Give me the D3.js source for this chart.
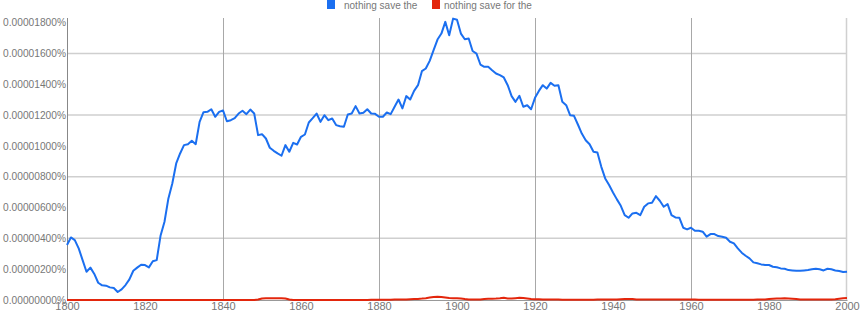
<!DOCTYPE html>
<html>
<head>
<meta charset="utf-8">
<script src="https://cdn.jsdelivr.net/npm/d3@7"></script>
<style>
  body { margin: 0; background: #fff; }
  svg text { font-family: "Liberation Sans", Arial, sans-serif; }
</style>
</head>
<body>
<div id="chart"></div>
<script>
// values in units of 0.00000001%
const years = d3.range(1800, 2001);
const seriesNames = ["nothing save the", "nothing save for the"];
const seriesColors = ["#1b6ff0", "#e3260c"];

const saveThe = [
  357, 406, 389, 335, 259, 183, 210, 169, 112, 95,
  93, 82, 78, 52, 69, 97, 134, 190, 210, 229,
  227, 212, 251, 259, 419, 508, 659, 756, 886, 951,
  1005, 1011, 1033, 1011, 1156, 1219, 1221, 1238, 1189, 1221,
  1230, 1160, 1167, 1180, 1210, 1228, 1206, 1236, 1210, 1070,
  1076, 1048, 988, 968, 951, 936, 1005, 962, 1020, 1009,
  1059, 1074, 1152, 1180, 1210, 1156, 1199, 1167, 1178, 1135,
  1128, 1124, 1204, 1210, 1258, 1210, 1215, 1238, 1210, 1208,
  1189, 1189, 1217, 1206, 1254, 1301, 1243, 1323, 1301, 1357,
  1394, 1485, 1502, 1552, 1621, 1690, 1729, 1805, 1718, 1826,
  1819, 1729, 1692, 1697, 1616, 1599, 1528, 1513, 1513, 1491,
  1470, 1459, 1444, 1394, 1323, 1286, 1325, 1254, 1264, 1238,
  1312, 1357, 1394, 1372, 1409, 1390, 1394, 1286, 1264, 1199,
  1195, 1139, 1080, 1037, 1011, 962, 957, 864, 789, 746,
  698, 653, 611, 551, 534, 562, 566, 551, 605, 627,
  631, 674, 644, 605, 622, 551, 536, 534, 469, 458,
  469, 449, 449, 443, 411, 428, 428, 415, 411, 404,
  378, 367, 335, 307, 287, 270, 244, 238, 231, 227,
  227, 216, 212, 205, 203, 194, 192, 190, 190, 192,
  194, 199, 203, 199, 192, 203, 199, 192, 188, 182,
  184
];

const saveForThe = [
  0, 0, 0, 0, 0, 0, 0, 0, 0, 0,
  0, 0, 0, 0, 0, 0, 0, 0, 0, 0,
  0, 0, 0, 0, 0, 0, 0, 0, 0, 0,
  0, 0, 0, 0, 0, 0, 0, 0, 0, 0,
  0, 0, 0, 0, 0, 0, 0, 0, 0, 3,
  10, 11, 11, 11, 11, 11, 10, 3, 0, 0,
  0, 0, 0, 0, 0, 0, 0, 0, 0, 0,
  0, 0, 0, 0, 0, 0, 0, 0, 1, 1,
  1, 1, 2, 2, 3, 3, 4, 4, 5, 6,
  7, 9, 12, 16, 20, 21, 19, 16, 13, 12,
  11, 9, 6, 4, 3, 3, 4, 6, 8, 8,
  9, 11, 14, 10, 9, 12, 14, 13, 10, 7,
  5, 5, 4, 3, 3, 3, 3, 2, 2, 2,
  2, 2, 2, 2, 2, 2, 3, 3, 3, 3,
  3, 4, 5, 6, 7, 6, 4, 3, 3, 3,
  3, 3, 3, 3, 3, 3, 3, 3, 3, 3,
  3, 3, 2, 2, 2, 2, 2, 2, 2, 2,
  2, 2, 2, 2, 2, 2, 2, 3, 3, 4,
  6, 8, 9, 10, 11, 10, 8, 6, 4, 3,
  3, 3, 3, 3, 3, 3, 3, 5, 8, 11,
  13
];

const yTicks = [0, 200, 400, 600, 800, 1000, 1200, 1400, 1600, 1800];
const yGrid = [400, 800, 1200, 1600];
const xTicks = [1800, 1820, 1840, 1860, 1880, 1900, 1920, 1940, 1960, 1980, 2000];
const xGrid = [1840, 1880, 1920, 1960];

const W = 860, H = 315;
const margin = { top: 18, right: 13, bottom: 15, left: 67 };
const yMax = 1830;

const svg = d3.select("#chart").append("svg")
    .attr("width", W)
    .attr("height", H);

const x = d3.scaleLinear()
    .domain([1800, 2000])
    .range([margin.left, W - margin.right]);

const y = d3.scaleLinear()
    .domain([0, yMax])
    .range([H - margin.bottom, margin.top]);

// horizontal grid
svg.append("g")
    .selectAll("line")
    .data(yGrid)
    .enter().append("line")
    .attr("x1", x(1800))
    .attr("x2", x(2000))
    .attr("y1", d => y(d))
    .attr("y2", d => y(d))
    .style("stroke", "#cfcfcf")
    .style("stroke-width", "1.5px");

// vertical grid
svg.append("g")
    .selectAll("line")
    .data(xGrid)
    .enter().append("line")
    .attr("x1", d => Math.round(x(d)) + 0.5)
    .attr("x2", d => Math.round(x(d)) + 0.5)
    .attr("y1", y(yMax))
    .attr("y2", y(0))
    .style("stroke", "#a8a8a8")
    .style("stroke-width", "1px");

// right border
svg.append("line")
    .attr("x1", x(2000) - 0.5).attr("x2", x(2000) - 0.5)
    .attr("y1", y(yMax)).attr("y2", y(0))
    .style("stroke", "#d0d0d0")
    .style("stroke-width", "1.5px");

// y axis
const yAxis = d3.axisLeft(y)
    .tickValues(yTicks)
    .tickSize(0)
    .tickPadding(1)
    .tickFormat(d => (d * 1e-8).toFixed(8) + "%");

const gy = svg.append("g")
    .attr("transform", `translate(${x(1800)},0)`)
    .call(yAxis);
gy.select(".domain").remove();
gy.selectAll("text")
    .style("font-size", "10.2px")
    .style("fill", "#777");

svg.append("line")
    .attr("x1", x(1800) + 0.5).attr("x2", x(1800) + 0.5)
    .attr("y1", y(yMax)).attr("y2", y(0))
    .style("stroke", "#888")
    .style("stroke-width", "1px");

// x axis
const xAxis = d3.axisBottom(x)
    .tickValues(xTicks)
    .tickSize(0)
    .tickPadding(2)
    .tickFormat(d3.format("d"));

const gx = svg.append("g")
    .attr("transform", `translate(0,${y(0)})`)
    .call(xAxis);
gx.select(".domain")
    .style("stroke", "#999");
gx.selectAll("text")
    .style("font-size", "11px")
    .style("fill", "#777");

// lines
const line = d3.line()
    .x((d, i) => x(years[i]))
    .y(d => y(d));

[saveThe, saveForThe].forEach((vals, k) => {
    svg.append("path")
        .datum(vals)
        .attr("d", line)
        .style("fill", "none")
        .style("stroke", seriesColors[k])
        .style("stroke-width", "2px")
        .style("stroke-linejoin", "round");
});

// legend
const legendX = [327, 432];
const legendTextX = [344, 444];
const legend = svg.append("g");
seriesNames.forEach((name, k) => {
    legend.append("rect")
        .attr("x", legendX[k])
        .attr("y", 0)
        .attr("width", 8)
        .attr("height", 9)
        .style("fill", seriesColors[k]);
    legend.append("text")
        .attr("x", legendTextX[k])
        .attr("y", 8.5)
        .text(name)
        .style("font-size", "10px")
        .style("fill", "#777");
});
</script>
</body>
</html>
